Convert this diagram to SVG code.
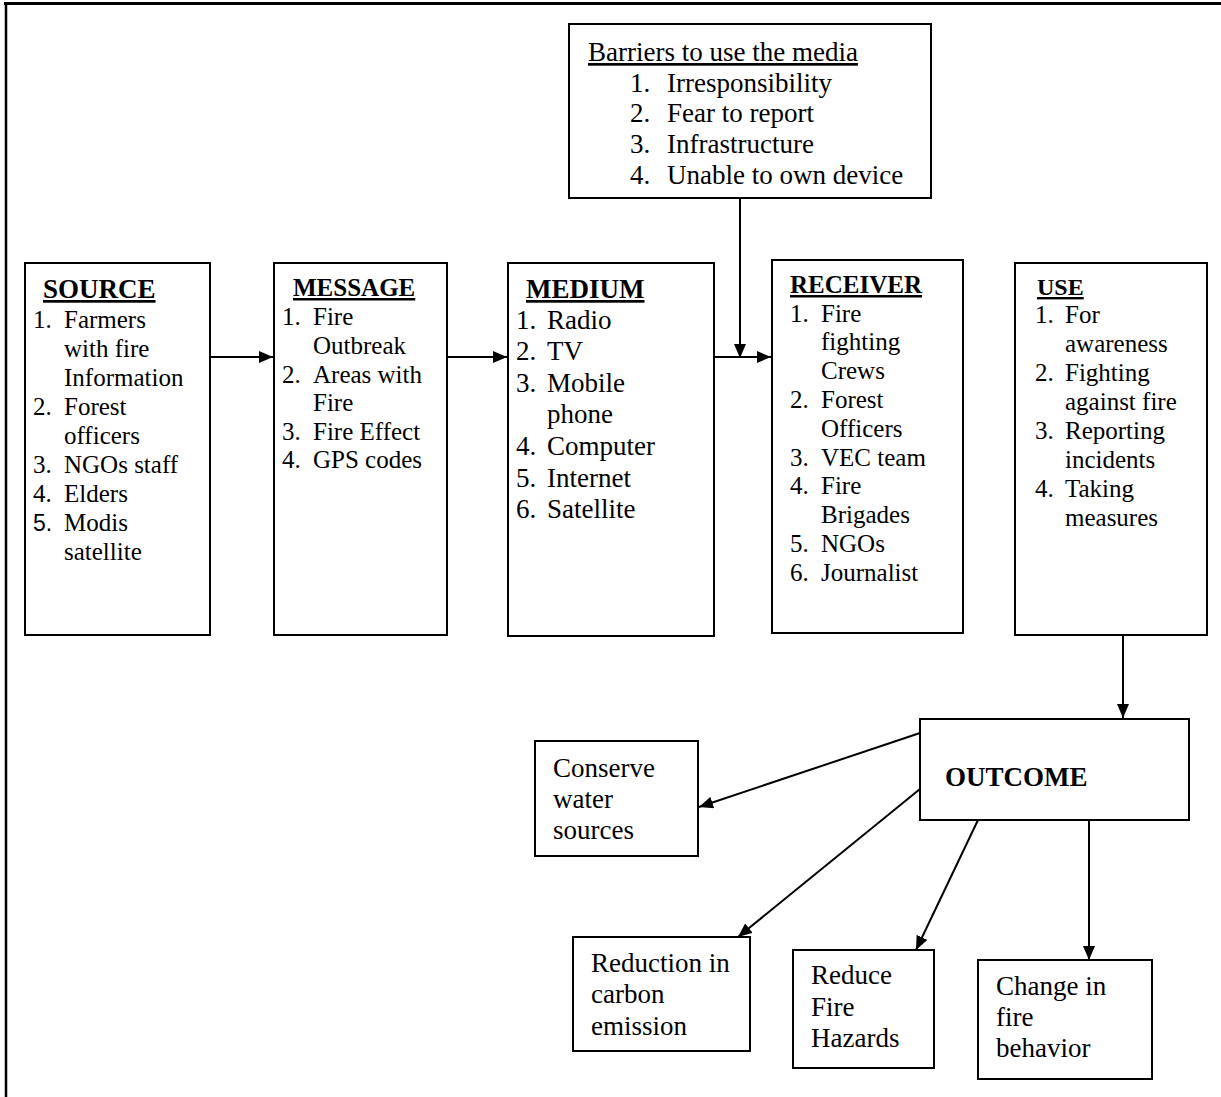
<svg xmlns="http://www.w3.org/2000/svg" width="1221" height="1097" viewBox="0 0 1221 1097">
<style>
.box{fill:#fff;stroke:#000;stroke-width:2}
.t{font-family:"Liberation Serif","Times New Roman",serif;fill:#000}
.s25{font-size:25px}
.s27{font-size:27px}
.h{font-weight:bold;text-decoration:underline}
.u{text-decoration:underline}
.c{stroke:#000;stroke-width:2;fill:none}
.sans{font-family:"Liberation Sans",Arial,sans-serif}
</style>
<defs>
<marker id="ah" markerUnits="userSpaceOnUse" markerWidth="15" markerHeight="12" refX="14" refY="6" orient="auto">
<path d="M0,0 L14,6 L0,12 z" fill="#000"/>
</marker>
</defs>
<rect width="1221" height="1097" fill="#fff"/>
<g id="frame">
<line x1="4" y1="3.5" x2="1221" y2="3.5" stroke="#000" stroke-width="3"/>
<line x1="6" y1="2" x2="6" y2="1097" stroke="#000" stroke-width="2.5"/>
</g>
<g id="connectors">
<line class="c" x1="210" y1="357" x2="273" y2="357" marker-end="url(#ah)"/>
<line class="c" x1="447" y1="357" x2="507" y2="357" marker-end="url(#ah)"/>
<line class="c" x1="714" y1="357" x2="771" y2="357" marker-end="url(#ah)"/>
<line class="c" x1="740" y1="198" x2="740" y2="358" marker-end="url(#ah)"/>
<line class="c" x1="1123" y1="635" x2="1123" y2="718" marker-end="url(#ah)"/>
<line class="c" x1="920" y1="733" x2="699" y2="807" marker-end="url(#ah)"/>
<line class="c" x1="920" y1="789" x2="738" y2="937" marker-end="url(#ah)"/>
<line class="c" x1="978" y1="820" x2="916" y2="950" marker-end="url(#ah)"/>
<line class="c" x1="1089" y1="820" x2="1089" y2="960" marker-end="url(#ah)"/>
</g>
<g id="barriers">
<rect class="box" x="569" y="24" width="362" height="174"/>
<text class="t s27 u" x="588" y="61">Barriers to use the media</text>
<text class="t s27" x="630" y="92">1.</text><text class="t s27" x="667" y="92">Irresponsibility</text>
<text class="t s27" x="630" y="122">2.</text><text class="t s27" x="667" y="122">Fear to report</text>
<text class="t s27" x="630" y="153">3.</text><text class="t s27" x="667" y="153">Infrastructure</text>
<text class="t s27" x="630" y="184">4.</text><text class="t s27" x="667" y="184">Unable to own device</text>
</g>
<g id="source">
<rect class="box" x="25" y="263" width="185" height="372"/>
<text class="t h" x="43" y="298" style="font-size:27px">SOURCE</text>
<text class="t s25" x="33" y="328">1.</text><text class="t s25" x="64" y="328">Farmers</text>
<text class="t s25" x="64" y="357">with fire</text>
<text class="t s25" x="64" y="386">Information</text>
<text class="t s25" x="33" y="415">2.</text><text class="t s25" x="64" y="415">Forest</text>
<text class="t s25" x="64" y="444">officers</text>
<text class="t s25" x="33" y="473">3.</text><text class="t s25" x="64" y="473">NGOs staff</text>
<text class="t s25" x="33" y="502">4.</text><text class="t s25" x="64" y="502">Elders</text>
<text class="t sans" x="33" y="531" style="font-size:23px">5.</text><text class="t s25" x="64" y="531">Modis</text>
<text class="t s25" x="64" y="560">satellite</text>
</g>
<g id="message">
<rect class="box" x="274" y="263" width="173" height="372"/>
<text class="t h" x="293" y="296" style="font-size:25px">MESSAGE</text>
<text class="t s25" x="282" y="325">1.</text><text class="t s25" x="313" y="325">Fire</text>
<text class="t s25" x="313" y="354">Outbreak</text>
<text class="t s25" x="282" y="383">2.</text><text class="t s25" x="313" y="383">Areas with</text>
<text class="t s25" x="313" y="411">Fire</text>
<text class="t s25" x="282" y="440">3.</text><text class="t s25" x="313" y="440">Fire Effect</text>
<text class="t s25" x="282" y="468">4.</text><text class="t s25" x="313" y="468">GPS codes</text>
</g>
<g id="medium">
<rect class="box" x="508" y="263" width="206" height="373"/>
<text class="t h" x="526" y="298" style="font-size:27px">MEDIUM</text>
<text class="t s27" x="516" y="329">1.</text><text class="t s27" x="547" y="329">Radio</text>
<text class="t s27" x="516" y="360">2.</text><text class="t s27" x="547" y="360">TV</text>
<text class="t s27" x="516" y="392">3.</text><text class="t s27" x="547" y="392">Mobile</text>
<text class="t s27" x="547" y="423">phone</text>
<text class="t s27" x="516" y="455">4.</text><text class="t s27" x="547" y="455">Computer</text>
<text class="t s27" x="516" y="487">5.</text><text class="t s27" x="547" y="487">Internet</text>
<text class="t s27" x="516" y="518">6.</text><text class="t s27" x="547" y="518">Satellite</text>
</g>
<g id="receiver">
<rect class="box" x="772" y="260" width="191" height="373"/>
<text class="t h" x="790" y="293" style="font-size:25px">RECEIVER</text>
<text class="t s25" x="790" y="322">1.</text><text class="t s25" x="821" y="322">Fire</text>
<text class="t s25" x="821" y="350">fighting</text>
<text class="t s25" x="821" y="379">Crews</text>
<text class="t s25" x="790" y="408">2.</text><text class="t s25" x="821" y="408">Forest</text>
<text class="t s25" x="821" y="437">Officers</text>
<text class="t s25" x="790" y="466">3.</text><text class="t s25" x="821" y="466">VEC team</text>
<text class="t s25" x="790" y="494">4.</text><text class="t s25" x="821" y="494">Fire</text>
<text class="t s25" x="821" y="523">Brigades</text>
<text class="t s25" x="790" y="552">5.</text><text class="t s25" x="821" y="552">NGOs</text>
<text class="t s25" x="790" y="581">6.</text><text class="t s25" x="821" y="581">Journalist</text>
</g>
<g id="use">
<rect class="box" x="1015" y="263" width="192" height="372"/>
<text class="t h" x="1037" y="295" style="font-size:24px">USE</text>
<text class="t s25" x="1035" y="323">1.</text><text class="t s25" x="1065" y="323">For</text>
<text class="t s25" x="1065" y="352">awareness</text>
<text class="t s25" x="1035" y="381">2.</text><text class="t s25" x="1065" y="381">Fighting</text>
<text class="t s25" x="1065" y="410">against fire</text>
<text class="t s25" x="1035" y="439">3.</text><text class="t s25" x="1065" y="439">Reporting</text>
<text class="t s25" x="1065" y="468">incidents</text>
<text class="t s25" x="1035" y="497">4.</text><text class="t s25" x="1065" y="497">Taking</text>
<text class="t s25" x="1065" y="526">measures</text>
</g>
<g id="outcome">
<rect class="box" x="920" y="719" width="269" height="101"/>
<text class="t s27" x="945" y="786" font-weight="bold">OUTCOME</text>
</g>
<g id="conserve">
<rect class="box" x="535" y="741" width="163" height="115"/>
<text class="t s27" x="553" y="777">Conserve</text>
<text class="t s27" x="553" y="808">water</text>
<text class="t s27" x="553" y="839">sources</text>
</g>
<g id="reduction">
<rect class="box" x="573" y="937" width="177" height="114"/>
<text class="t s27" x="591" y="972">Reduction in</text>
<text class="t s27" x="591" y="1003">carbon</text>
<text class="t s27" x="591" y="1035">emission</text>
</g>
<g id="reduce">
<rect class="box" x="793" y="950" width="141" height="118"/>
<text class="t s27" x="811" y="984">Reduce</text>
<text class="t s27" x="811" y="1016">Fire</text>
<text class="t s27" x="811" y="1047">Hazards</text>
</g>
<g id="change">
<rect class="box" x="978" y="960" width="174" height="119"/>
<text class="t s27" x="996" y="995">Change in</text>
<text class="t s27" x="996" y="1026">fire</text>
<text class="t s27" x="996" y="1057">behavior</text>
</g>
</svg>
